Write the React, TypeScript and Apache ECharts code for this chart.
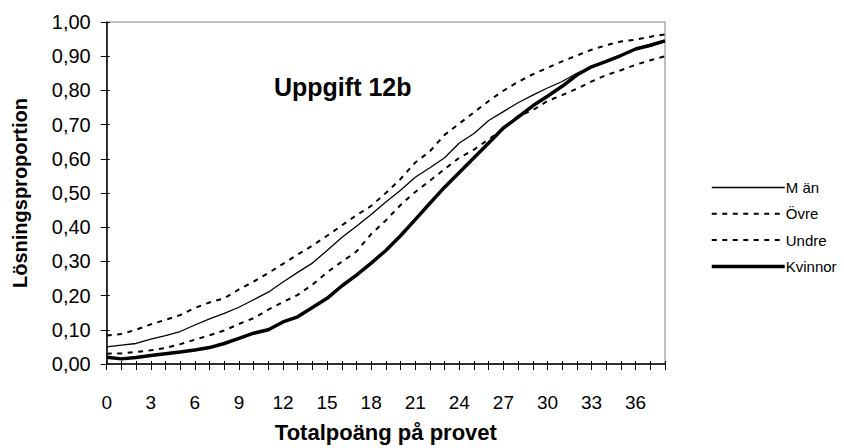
import React, { useEffect, useRef } from "react";
import * as echarts from "echarts";

const scores = Array.from({ length: 39 }, (_, i) => i);

const man = [0.05, 0.055, 0.06, 0.073, 0.083, 0.095, 0.114, 0.132, 0.148, 0.166, 0.188, 0.21, 0.24, 0.268, 0.295, 0.332, 0.37, 0.403, 0.437, 0.474, 0.508, 0.546, 0.574, 0.603, 0.646, 0.674, 0.712, 0.738, 0.764, 0.786, 0.807, 0.826, 0.85, 0.869, 0.885, 0.902, 0.921, 0.929, 0.945];
const ovre = [0.083, 0.088, 0.1, 0.116, 0.129, 0.143, 0.164, 0.18, 0.192, 0.218, 0.241, 0.266, 0.293, 0.32, 0.346, 0.375, 0.405, 0.435, 0.462, 0.5, 0.541, 0.589, 0.622, 0.67, 0.703, 0.736, 0.769, 0.799, 0.825, 0.847, 0.866, 0.885, 0.902, 0.919, 0.932, 0.943, 0.948, 0.957, 0.964];
const undre = [0.03, 0.031, 0.035, 0.04, 0.047, 0.058, 0.071, 0.084, 0.098, 0.117, 0.134, 0.159, 0.181, 0.202, 0.232, 0.268, 0.299, 0.329, 0.38, 0.42, 0.465, 0.503, 0.536, 0.57, 0.603, 0.627, 0.657, 0.688, 0.725, 0.742, 0.769, 0.786, 0.805, 0.826, 0.845, 0.859, 0.875, 0.888, 0.9];
const kvinnor = [0.02, 0.015, 0.019, 0.025, 0.03, 0.035, 0.041, 0.048, 0.06, 0.075, 0.09, 0.1, 0.123, 0.138, 0.165, 0.192, 0.228, 0.26, 0.295, 0.332, 0.375, 0.422, 0.47, 0.517, 0.56, 0.603, 0.646, 0.69, 0.722, 0.755, 0.783, 0.812, 0.845, 0.869, 0.885, 0.902, 0.921, 0.932, 0.945];

const seriesNames = ["M än", "Övre", "Undre", "Kvinnor"];
const lineWidths = [1.3, 2, 2, 3.5];
const lineTypes: any[] = ["solid", [5, 5.5], [5, 5.5], "solid"];
const seriesData = [man, ovre, undre, kvinnor];

const FONT = "'Liberation Sans', Arial, sans-serif";

export default function App() {
  const ref = useRef<HTMLDivElement>(null);
  useEffect(() => {
    if (!ref.current) return;
    const chart = echarts.init(ref.current, undefined, { renderer: "svg" });
    const pair = (arr: number[]) => scores.map((s, i) => [s, arr[i]]);
    const xBase = {
      type: "value" as const,
      min: 0,
      max: 38,
      interval: 1,
      position: "bottom" as const,
      splitLine: { show: false },
    };
    const yBase = {
      type: "value" as const,
      min: 0,
      max: 1,
      interval: 0.1,
      position: "left" as const,
      splitLine: { show: false },
    };
    chart.setOption({
      animation: false,
      textStyle: { fontFamily: FONT },
      title: {
        text: "Uppgift 12b",
        left: 269,
        top: 69,
        textStyle: { fontFamily: FONT, fontWeight: "bold", fontSize: 25, color: "#000" },
      },
      grid: {
        left: 106.7,
        top: 22,
        right: 179,
        bottom: 74.7,
        show: true,
        borderColor: "#808080",
        borderWidth: 1,
        backgroundColor: "#fff",
      },
      legend: {
        orient: "vertical",
        left: 710,
        top: 180,
        padding: 0,
        itemWidth: 73,
        itemHeight: 12,
        itemGap: 11.3,
        data: seriesNames.map((name, i) => ({
          name,
          lineStyle: { color: "#000", width: lineWidths[i], type: lineTypes[i] },
        })),
        itemStyle: { color: "transparent", borderWidth: 0, opacity: 0 },
        textStyle: { fontFamily: FONT, fontSize: 15, color: "#000", padding: [0, 0, 0, -4] },
      },
      xAxis: [
        {
          ...xBase,
          name: "Totalpoäng på provet",
          nameLocation: "middle",
          nameGap: 57,
          nameTextStyle: { fontFamily: FONT, fontWeight: "bold", fontSize: 22, color: "#000" },
          axisLine: { show: true, lineStyle: { color: "#000", width: 1.5 } },
          axisTick: { show: true, length: 6, lineStyle: { color: "#000" } },
          axisLabel: {
            margin: 29,
            fontFamily: FONT,
            fontSize: 19,
            color: "#000",
            formatter: (v: number) => (v % 3 === 0 ? String(v) : ""),
          },
        },
        {
          ...xBase,
          axisLine: { show: false },
          axisTick: { show: true, inside: true, length: 3, lineStyle: { color: "#000" } },
          axisLabel: { show: false },
        },
      ],
      yAxis: [
        {
          ...yBase,
          name: "Lösningsproportion",
          nameLocation: "middle",
          nameGap: 77,
          nameRotate: 90,
          nameTextStyle: { fontFamily: FONT, fontWeight: "bold", fontSize: 20, color: "#000" },
          axisLine: { show: true, lineStyle: { color: "#000", width: 1.5 } },
          axisTick: { show: true, length: 6, lineStyle: { color: "#000" } },
          axisLabel: {
            margin: 16,
            fontFamily: FONT,
            fontSize: 20,
            color: "#000",
            formatter: (v: number) => v.toFixed(2).replace(".", ","),
          },
        },
        {
          ...yBase,
          axisLine: { show: false },
          axisTick: { show: true, inside: true, length: 3, lineStyle: { color: "#000" } },
          axisLabel: { show: false },
        },
      ],
      series: seriesNames.map((name, i) => ({
        name,
        type: "line",
        data: pair(seriesData[i]),
        symbol: "none",
        lineStyle: { color: "#000", width: lineWidths[i], type: lineTypes[i] },
        itemStyle: { color: "#000" },
      })),
    });
    return () => chart.dispose();
  }, []);
  return (
    <div
      ref={ref}
      style={{ position: "fixed", left: 0, top: 0, width: 844, height: 448, background: "#fff" }}
    />
  );
}
